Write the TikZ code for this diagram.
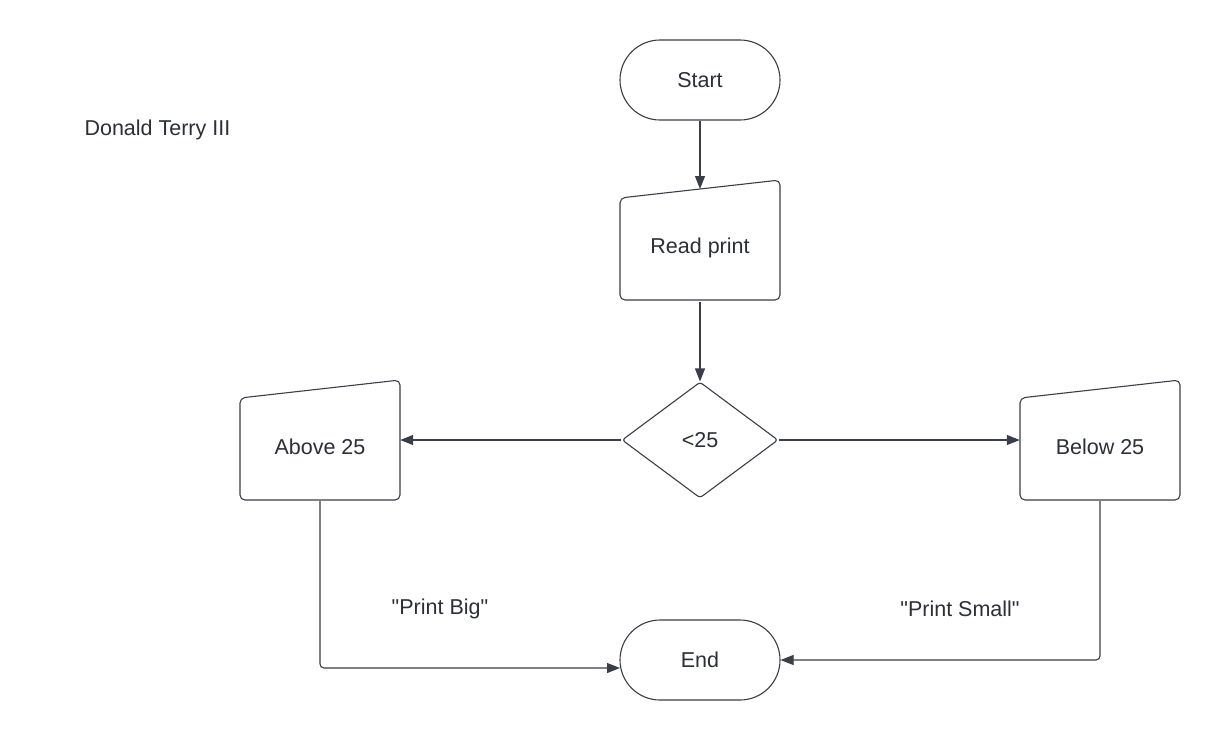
\documentclass[tikz,border=0pt]{standalone}
\usepackage{fontspec}
\setmainfont{Liberation Sans}
\newfontfamily\plainfont{Liberation Sans}
\usetikzlibrary{shapes.geometric,arrows.meta}
\definecolor{ln}{HTML}{3A3F47}
\definecolor{tx}{HTML}{2B2F36}
\begin{document}
\begin{tikzpicture}[x=1pt,y=-1pt,
  every node/.style={font=\plainfont\fontsize{21.5}{25}\selectfont, text=tx},
  term/.style={draw=ln, line width=1.1pt, rectangle, rounded corners=40pt, minimum width=160pt, minimum height=80pt},
  box/.style={draw=none, minimum width=160pt, minimum height=108pt},
  shapeline/.style={draw=ln, line width=1.1pt, rounded corners=5pt},
  decision/.style={draw=ln, line width=1.1pt, diamond, minimum width=156pt, minimum height=116pt, rounded corners=3pt, inner sep=0pt},
  arr/.style={draw=ln, line width=1.1pt, -{Triangle[length=13pt,width=10pt]}},
  lbl/.style={}]
\useasboundingbox[fill=white] (0,0) rectangle (1220,740);

\node[anchor=west] (author) at (81,130) {Donald Terry III};

\node[term] (start) at (700,80) {Start};

\draw[shapeline] (620,198) -- (780,180) -- (780,300) -- (620,300) -- cycle;
\node[box] (read) at (700,248) {Read print};
\coordinate (readtop) at (700,189);

\node[decision] (dec) at (700,440) {<25};

\draw[shapeline] (240,398) -- (400,380) -- (400,500) -- (240,500) -- cycle;
\node[box] (above) at (320,447) {Above 25};

\draw[shapeline] (1020,398) -- (1180,380) -- (1180,500) -- (1020,500) -- cycle;
\node[box] (below) at (1100,447) {Below 25};

\node[term] (end) at (700,660) {End};
\coordinate (endL) at (620,668);

\node[lbl] (big) at (440,609) {"Print Big"};
\node[lbl] (small) at (960,609) {"Print Small"};

\draw[arr] (start.south) -- (readtop);
\draw[arr] (read.south) -- (dec.north);
\draw[arr] (dec.west) -- (dec.west -| above.east);
\draw[arr] (dec.east) -- (dec.east -| below.west);
\draw[arr, rounded corners=4pt] (above.south) |- (endL);
\draw[arr, rounded corners=4pt] (below.south) |- (end.east);
\end{tikzpicture}
\end{document}
